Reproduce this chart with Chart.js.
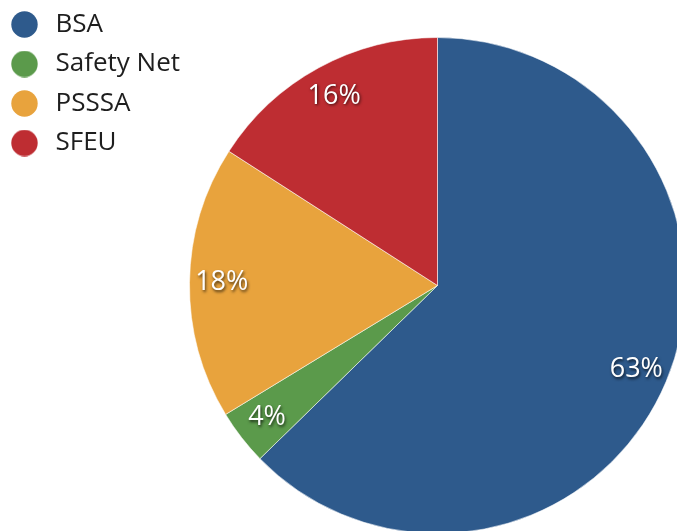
<!DOCTYPE html>
<html><head><meta charset="utf-8">
<script src="https://cdn.jsdelivr.net/npm/chart.js@4/dist/chart.umd.min.js"></script>
<style>
html,body{margin:0;padding:0;overflow:hidden;background:#fff;width:677px;height:531px;}
#wrap{position:absolute;left:-7.5px;top:-2.5px;width:889px;height:575px;}
</style></head><body>
<div id="wrap"><canvas id="c" width="889" height="575"></canvas></div>
<script>
const categories = ['BSA', 'Safety Net', 'PSSSA', 'SFEU'];
const shares = [62.7, 3.6, 17.8, 15.9];
const colors = ['#2E5A8C', '#5B9A4B', '#E8A33D', '#BE2D32'];

const FONT = "'Open Sans', 'DejaVu Sans', sans-serif";

function makeDot(color) {
  const c = document.createElement('canvas');
  c.width = 27; c.height = 27;
  const g = c.getContext('2d');
  g.fillStyle = color;
  g.beginPath(); g.arc(13.5, 13.5, 13.2, 0, Math.PI * 2); g.fill();
  return c;
}
const dots = colors.map(makeDot);

const pctLabels = {
  id: 'pctLabels',
  afterDatasetsDraw(chart) {
    const ctx = chart.ctx;
    const meta = chart.getDatasetMeta(0);
    const data = chart.data.datasets[0].data;
    const total = data.reduce((a, b) => a + b, 0);
    ctx.save();
    ctx.font = "27px " + FONT;
    ctx.textAlign = 'center';
    ctx.textBaseline = 'middle';
    ctx.fillStyle = '#fff';
    ctx.shadowColor = 'rgba(0,0,0,0.7)';
    ctx.shadowBlur = 3;
    ctx.shadowOffsetX = 1;
    ctx.shadowOffsetY = 1.5;
    meta.data.forEach((arc, i) => {
      const p = arc.getProps(['x', 'y', 'startAngle', 'endAngle', 'outerRadius'], true);
      const mid = (p.startAngle + p.endAngle) / 2;
      const r = p.outerRadius * 0.87;
      const tx = p.x + Math.cos(mid) * r;
      const ty = p.y + Math.sin(mid) * r;
      ctx.fillText(Math.round(data[i] / total * 100) + '%', tx, ty);
    });
    ctx.restore();
  }
};

new Chart(document.getElementById('c'), {
  type: 'pie',
  data: {
    labels: categories,
    datasets: [{
      data: shares,
      backgroundColor: colors,
      borderColor: 'rgba(255,255,255,0.55)',
      borderWidth: 1,
      hoverOffset: 0
    }]
  },
  options: {
    responsive: false,
    devicePixelRatio: 1,
    animation: false,
    radius: 248,
    layout: { padding: 0 },
    plugins: {
      tooltip: { enabled: false },
      legend: {
        position: 'chartArea',
        align: 'start',
        labels: {
          usePointStyle: true,
          pointStyleWidth: 36,
          padding: 13.5,
          color: '#1e1e1e',
          font: { family: FONT, size: 26 },
          generateLabels(chart) {
            const items = Chart.overrides.doughnut.plugins.legend.labels.generateLabels(chart);
            items.forEach((it, i) => { it.pointStyle = dots[i]; });
            return items;
          }
        }
      }
    }
  },
  plugins: [pctLabels]
});
</script>
</body></html>
